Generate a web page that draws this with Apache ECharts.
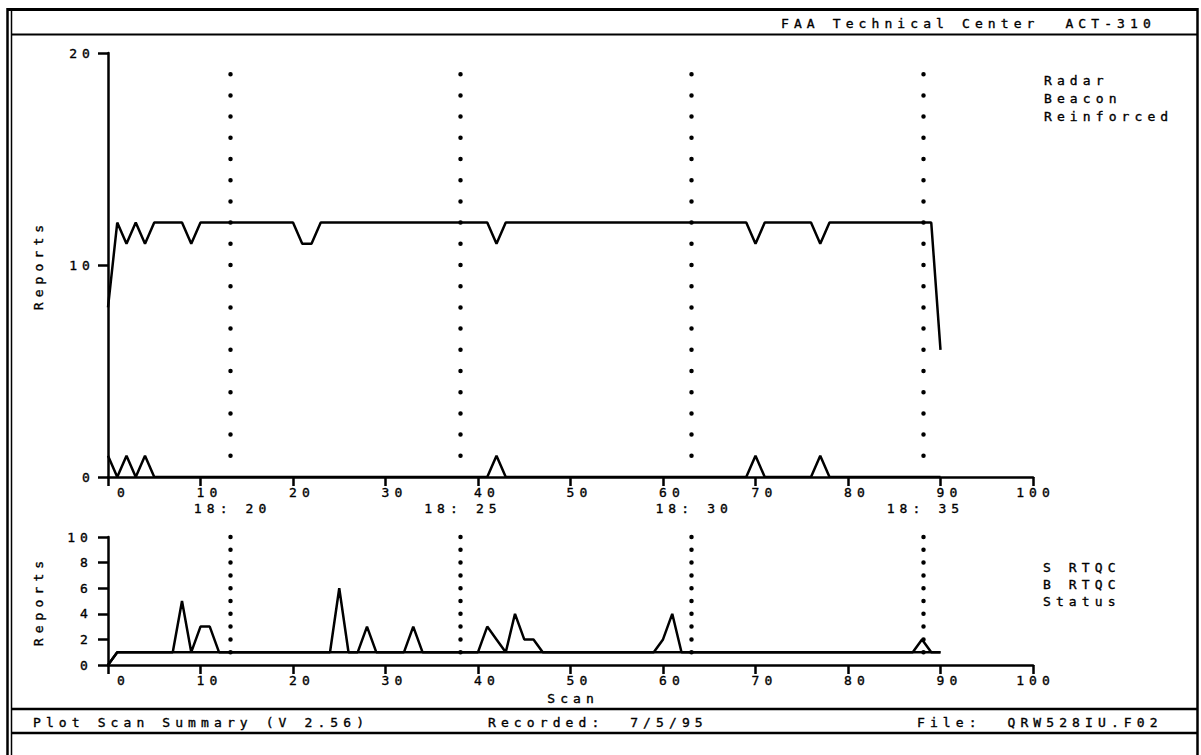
<!DOCTYPE html>
<html>
<head>
<meta charset="utf-8">
<title>Plot Scan Summary</title>
<script src="https://cdn.jsdelivr.net/npm/echarts@6/dist/echarts.min.js"></script>
<style>
  html, body { margin: 0; padding: 0; background: #fff; }
  #chart { width: 1201px; height: 755px; }
  /* plotter-style wide character pitch, slightly heavier strokes */
  #chart text { letter-spacing: 5.1px; white-space: pre; stroke: #000; stroke-width: 0.35px; }
</style>
</head>
<body>
<div id="chart"></div>
<script>
// Upper panel: reports per scan (index = scan number 0..90)
const reinforced = [
  8, 12, 11, 12, 11, 12, 12, 12, 12, 11, 12,
  12, 12, 12, 12, 12, 12, 12, 12, 12, 12,
  11, 11, 12, 12, 12, 12, 12, 12, 12, 12,
  12, 12, 12, 12, 12, 12, 12, 12, 12, 12,
  12, 11, 12, 12, 12, 12, 12, 12, 12, 12,
  12, 12, 12, 12, 12, 12, 12, 12, 12, 12,
  12, 12, 12, 12, 12, 12, 12, 12, 12, 11,
  12, 12, 12, 12, 12, 12, 11, 12, 12, 12,
  12, 12, 12, 12, 12, 12, 12, 12, 12, 6
];
const radar = [
  1, 0, 1, 0, 1, 0, 0, 0, 0, 0, 0,
  0, 0, 0, 0, 0, 0, 0, 0, 0, 0,
  0, 0, 0, 0, 0, 0, 0, 0, 0, 0,
  0, 0, 0, 0, 0, 0, 0, 0, 0, 0,
  0, 1, 0, 0, 0, 0, 0, 0, 0, 0,
  0, 0, 0, 0, 0, 0, 0, 0, 0, 0,
  0, 0, 0, 0, 0, 0, 0, 0, 0, 1,
  0, 0, 0, 0, 0, 0, 1, 0, 0, 0,
  0, 0, 0, 0, 0, 0, 0, 0, 0, 0
];

// Lower panel: RTQC / status reports per scan
const sRtqc = [
  0, 1, 1, 1, 1, 1, 1, 1, 5, 1, 3,
  3, 1, 1, 1, 1, 1, 1, 1, 1, 1,
  1, 1, 1, 1, 6, 1, 1, 3, 1, 1,
  1, 1, 3, 1, 1, 1, 1, 1, 1, 1,
  3, 2, 1, 4, 2, 2, 1, 1, 1, 1,
  1, 1, 1, 1, 1, 1, 1, 1, 1, 2,
  4, 1, 1, 1, 1, 1, 1, 1, 1, 1,
  1, 1, 1, 1, 1, 1, 1, 1, 1, 1,
  1, 1, 1, 1, 1, 1, 1, 2, 1, 1
];
// status level as [scan, value] break points
const status = [[0, 0], [1, 1], [90, 1]];

// five-minute time marks (scan number) and their clock labels
const timeMarks = [13.2, 38.1, 63.1, 88.1];
const timeLabels = ['18: 20', '18: 25', '18: 30', '18: 35'];

const upperLegend = ['Radar', 'Beacon', 'Reinforced'];
const lowerLegend = ['S RTQC', 'B RTQC', 'Status'];

const FONT = '"DejaVu Sans Mono", monospace';
const FS = 13;
const SPACING = 5.1;   // matches the CSS letter-spacing above
const INK = '#000';

const chart = echarts.init(document.getElementById('chart'), null, { renderer: 'svg' });

const G0 = { left: 108, top: 53, width: 925, height: 424 };
const G1 = { left: 108, top: 537, width: 925, height: 128 };

// scan numbers are printed in a fixed three-character field centred on the tick
const scanFmt = v => String(v).padStart(3, ' ');

function xAxisOf(gridIndex, extra) {
  return Object.assign({
    type: 'value', gridIndex, min: 0, max: 100, interval: 10,
    axisLine: { show: true, onZero: false, lineStyle: { color: INK, width: 2.5 } },
    axisTick: { show: true, length: 9, lineStyle: { color: INK, width: 2.5 } },
    axisLabel: { color: INK, fontFamily: FONT, fontSize: FS, margin: 9,
                 padding: [0, 0, 0, SPACING], formatter: scanFmt },
    splitLine: { show: false }
  }, extra || {});
}
function yAxisOf(gridIndex, max, interval, margin) {
  return {
    type: 'value', gridIndex, min: 0, max, interval,
    name: 'Reports', nameLocation: 'middle', nameRotate: 90, nameGap: 63,
    nameTextStyle: { color: INK, fontFamily: FONT, fontSize: FS },
    axisLine: { show: true, onZero: false, lineStyle: { color: INK, width: 2.5 } },
    axisTick: { show: true, length: 10, lineStyle: { color: INK, width: 2.5 } },
    axisLabel: { color: INK, fontFamily: FONT, fontSize: FS, margin },
    splitLine: { show: false }
  };
}

function dotted(marks, yFrom, yTo, gap) {
  return {
    silent: true, symbol: 'none', animation: false,
    label: { show: false },
    lineStyle: { color: INK, width: 4.5, type: [0, gap], cap: 'round' },
    data: marks.map(m => [{ coord: [m, yFrom] }, { coord: [m, yTo] }])
  };
}

const lineStyle = { color: INK, width: 2.5 };

function frameLine(x1, y1, x2, y2, w) {
  return { type: 'line', silent: true, shape: { x1, y1, x2, y2 },
           style: { stroke: INK, lineWidth: w } };
}
function label(id, text, x, y, align) {
  return { type: 'text', id, silent: true, x, y,
           style: { text, fill: INK, font: FS + 'px ' + FONT,
                    textAlign: align || 'left', textVerticalAlign: 'middle' } };
}

const graphics = [
  frameLine(7, 9.5, 1198, 9.5, 3),
  frameLine(7.5, 8, 7.5, 755, 2.5),
  frameLine(11.5, 8, 11.5, 755, 1.5),
  frameLine(1197.5, 8, 1197.5, 755, 2.5),
  frameLine(11, 34.5, 1197, 34.5, 2),
  frameLine(11, 709, 1197, 709, 2.5),
  frameLine(11, 733, 1197, 733, 2.5),
  label('hdr', 'FAA Technical Center  ACT-310', 781, 23),
  label('ft1', 'Plot Scan Summary (V 2.56)', 33, 722),
  label('ft2', 'Recorded:  7/5/95', 488, 722),
  label('ft3', 'File:  QRW528IU.F02', 917, 722)
];
upperLegend.forEach((t, i) => graphics.push(label('ul' + i, t, 1044, 80 + i * 18)));
lowerLegend.forEach((t, i) => graphics.push(label('ll' + i, t, 1043, 567 + i * 17)));

chart.setOption({
  animation: false,
  backgroundColor: '#fff',
  textStyle: { fontFamily: FONT, color: INK },
  grid: [
    Object.assign({ containLabel: false }, G0),
    Object.assign({ containLabel: false }, G1)
  ],
  xAxis: [
    xAxisOf(0),
    xAxisOf(1, {
      name: 'Scan', nameLocation: 'middle', nameGap: 27,
      nameTextStyle: { color: INK, fontFamily: FONT, fontSize: FS, padding: [0, 0, 0, SPACING] }
    })
  ],
  yAxis: [
    yAxisOf(0, 20, 10, 13),
    yAxisOf(1, 10, 2, 15)
  ],
  series: [
    {
      name: 'Reinforced', type: 'line', xAxisIndex: 0, yAxisIndex: 0,
      showSymbol: false, symbol: 'none', lineStyle, z: 3,
      data: reinforced.map((v, i) => [i, v]),
      markLine: dotted(timeMarks, 19, 0.9, G0.height / 20)
    },
    {
      name: 'Radar', type: 'line', xAxisIndex: 0, yAxisIndex: 0,
      showSymbol: false, symbol: 'none', lineStyle, z: 3,
      data: radar.map((v, i) => [i, v])
    },
    {
      name: 'Status', type: 'line', xAxisIndex: 1, yAxisIndex: 1,
      showSymbol: false, symbol: 'none', lineStyle, z: 3,
      data: status,
      markLine: dotted(timeMarks, 10, 0.9, G1.height / 10)
    },
    {
      name: 'S RTQC', type: 'line', xAxisIndex: 1, yAxisIndex: 1,
      showSymbol: false, symbol: 'none', lineStyle, z: 3,
      data: sRtqc.map((v, i) => [i, v])
    }
  ],
  graphic: graphics
});

// clock labels under the upper scan axis, placed through the axis scale
const clock = timeMarks.map((m, i) => {
  const px = chart.convertToPixel({ xAxisIndex: 0 }, m);
  return label('clk' + i, timeLabels[i], px + SPACING / 2, 508, 'center');
});
chart.setOption({ graphic: clock });
</script>
</body>
</html>
